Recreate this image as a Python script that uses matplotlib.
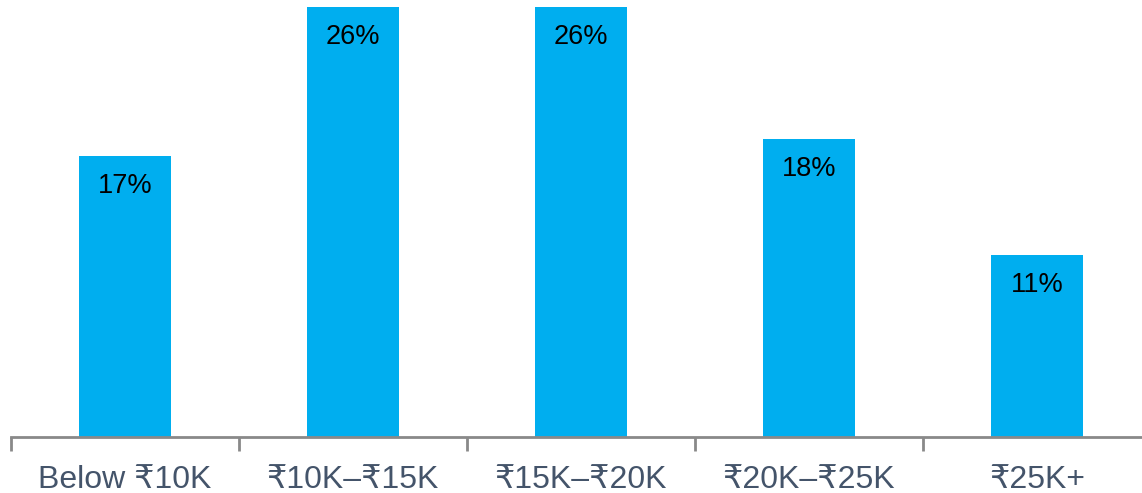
import matplotlib
matplotlib.use("Agg")
import matplotlib.pyplot as plt
import numpy as np

plt.rcParams["font.family"] = ["Liberation Sans", "DejaVu Sans"]

categories = ["Below \u20b910K", "\u20b910K\u2013\u20b915K", "\u20b915K\u2013\u20b920K",
              "\u20b920K\u2013\u20b925K", "\u20b925K+"]
shares = [17, 26, 26, 18, 11]

bar_color = "#00AEEF"
text_color = "#44546A"
axis_color = "#898989"

fig = plt.figure(figsize=(11.42, 4.93), dpi=100)
# axes runs a little past the right edge, as in the reference
ax = fig.add_axes([11/1142, 56/493, 1140/1142, 437/493])

x = np.arange(len(categories))
ax.bar(x, shares, width=0.4, color=bar_color)

for xi, v in zip(x, shares):
    ax.text(xi, v - 2.24, f"{v}%", ha="center", va="baseline", fontsize=19.5, color="black")

ax.set_xlim(-0.5, len(categories) - 0.5)
ax.set_ylim(0, 437/16.53)

for s in ["top", "right", "left"]:
    ax.spines[s].set_visible(False)
ax.spines["bottom"].set_color(axis_color)
ax.spines["bottom"].set_linewidth(2)
ax.set_yticks([])

ax.set_xticks(np.arange(-0.5, len(categories), 1.0))
ax.set_xticklabels([])
ax.set_xticks(x, minor=True)
ax.set_xticklabels(categories, minor=True, fontsize=23, color=text_color)
ax.tick_params(axis="x", which="major", length=10, width=2, color=axis_color)
ax.tick_params(axis="x", which="minor", length=0, pad=20)

fig.savefig("out.png", dpi=100)
